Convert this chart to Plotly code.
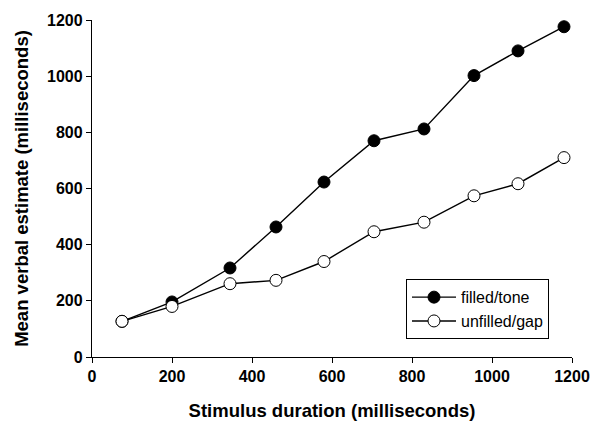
import plotly.graph_objects as go

durations = [75, 200, 345, 460, 580, 705, 830, 955, 1065, 1180]
filled_tone = [127, 196, 317, 463, 623, 770, 812, 1002, 1090, 1176]
unfilled_gap = [127, 180, 261, 273, 340, 446, 480, 574, 617, 710]
ticks = [0, 200, 400, 600, 800, 1000, 1200]

FONT = "Liberation Sans, Arial, sans-serif"

fig = go.Figure()
fig.add_trace(go.Scatter(
    x=durations, y=filled_tone, mode="lines+markers", name="filled/tone",
    line=dict(color="black", width=1.4),
    marker=dict(symbol="circle", size=12, color="black", line=dict(color="black", width=1)),
    cliponaxis=False))
fig.add_trace(go.Scatter(
    x=durations, y=unfilled_gap, mode="lines+markers", name="unfilled/gap",
    line=dict(color="black", width=1.4),
    marker=dict(symbol="circle", size=12, color="white", line=dict(color="black", width=1)),
    cliponaxis=False))

axis_common = dict(
    range=[0, 1200], tickvals=ticks, ticks="outside", ticklen=5, tickwidth=1.4,
    tickcolor="black", showline=True, linecolor="black", linewidth=1.4,
    showgrid=False, zeroline=False, automargin=False,
    tickfont=dict(family=FONT, size=16, color="black", weight="bold"),
)
fig.update_xaxes(**axis_common,
    title=dict(text="<b>Stimulus duration (milliseconds)</b>", standoff=19,
               font=dict(family=FONT, size=18.5, color="black")))
fig.update_yaxes(**axis_common,
    title=dict(text="<b>Mean verbal estimate (milliseconds)</b>", standoff=13,
               font=dict(family=FONT, size=18.5, color="black")))

fig.update_layout(
    template="none",
    width=593, height=423,
    margin=dict(l=92, r=21, t=20, b=66, pad=0),
    plot_bgcolor="white", paper_bgcolor="white",
    legend=dict(x=(406 - 92) / 480, y=(356.6 - 279) / 336.3, xanchor="left", yanchor="top",
                bordercolor="black", borderwidth=1, bgcolor="white",
                font=dict(family=FONT, size=16, color="black"),
                tracegroupgap=0, itemwidth=44),
    showlegend=True,
)
fig.write_html(
    "out.html",
    config={"displayModeBar": False},
    post_script="document.body.style.margin='0';document.body.style.padding='0';"
                "document.documentElement.style.overflow='hidden';",
)
